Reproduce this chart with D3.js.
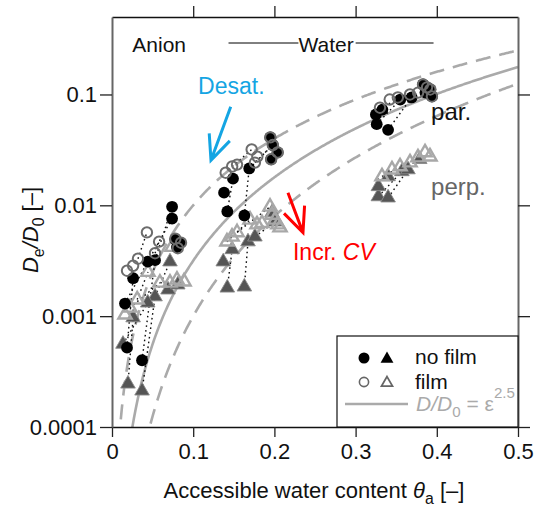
<!DOCTYPE html>
<html>
<head>
<meta charset="utf-8">
<script src="https://cdn.jsdelivr.net/npm/d3@7"></script>
<style>
  html, body { margin: 0; padding: 0; background: #fff; }
</style>
</head>
<body>
<svg id="chart" width="538" height="515"></svg>
<script>
// ---- axis ticks ----
const xTicks = [0, 0.1, 0.2, 0.3, 0.4, 0.5];
const xTickLabels = ["0", "0.1", "0.2", "0.3", "0.4", "0.5"];
const yTicks = [1e-4, 1e-3, 1e-2, 1e-1];
const yTickLabels = ["0.0001", "0.001", "0.01", "0.1"];

// ---- measurements: [theta_a, De/D0] ----
// parallel to the bedding, no film correction
const parNoFilm = [
  [0.074, 0.0097], [0.074, 0.0076], [0.044, 0.0031], [0.053, 0.0032], [0.026, 0.0022],
  [0.016, 0.0013], [0.0185, 0.00052], [0.037, 0.0004], [0.078, 0.0049], [0.084, 0.0046],
  [0.080, 0.0042], [0.149, 0.0174], [0.138, 0.013], [0.169, 0.0215], [0.142, 0.0088],
  [0.163, 0.0081], [0.195, 0.041], [0.198, 0.035], [0.204, 0.030], [0.196, 0.026],
  [0.326, 0.054], [0.340, 0.048], [0.325, 0.066], [0.333, 0.073], [0.355, 0.090],
  [0.369, 0.094], [0.383, 0.123], [0.388, 0.116], [0.392, 0.111], [0.386, 0.104],
  [0.394, 0.096]
];
// parallel, with film correction
const parFilm = [
  [0.0185, 0.00257], [0.026, 0.00285], [0.032, 0.0033], [0.043, 0.0057], [0.053, 0.0037],
  [0.058, 0.0047], [0.078, 0.0050], [0.085, 0.0046], [0.081, 0.0041], [0.140, 0.0197],
  [0.148, 0.0224], [0.154, 0.0233], [0.172, 0.0319], [0.179, 0.0275], [0.176, 0.0243],
  [0.195, 0.041], [0.198, 0.035], [0.204, 0.030], [0.196, 0.026], [0.330, 0.076],
  [0.342, 0.090], [0.352, 0.094], [0.367, 0.100], [0.377, 0.104], [0.383, 0.123],
  [0.388, 0.116], [0.392, 0.111], [0.394, 0.096]
];
// perpendicular to the bedding, no film correction
const perpNoFilm = [
  [0.0714, 0.0031], [0.053, 0.0015], [0.044, 0.00132], [0.026, 0.00097], [0.0135, 0.00056],
  [0.0197, 0.000245], [0.037, 0.000212], [0.069, 0.00173], [0.081, 0.00192], [0.148, 0.0040],
  [0.137, 0.0031], [0.1675, 0.0047], [0.176, 0.0052], [0.142, 0.0018], [0.163, 0.00184],
  [0.197, 0.0086], [0.201, 0.0071], [0.328, 0.0120], [0.340, 0.0117], [0.328, 0.0148],
  [0.340, 0.0182], [0.357, 0.0202], [0.3645, 0.021], [0.379, 0.026]
];
// perpendicular, with film correction
const perpFilm = [
  [0.0739, 0.0042], [0.0443, 0.0025], [0.059, 0.0020], [0.031, 0.00141], [0.022, 0.00119],
  [0.016, 0.00103], [0.0714, 0.0020], [0.080, 0.00213], [0.0887, 0.00205], [0.1416, 0.0047],
  [0.1478, 0.0052], [0.154, 0.0057], [0.170, 0.0074], [0.1786, 0.0067], [0.1847, 0.0069],
  [0.1946, 0.0097], [0.197, 0.0082], [0.2007, 0.0074], [0.2044, 0.0067], [0.2069, 0.0063],
  [0.3325, 0.0182], [0.3448, 0.021], [0.3547, 0.0224], [0.367, 0.0243], [0.3768, 0.027],
  [0.3855, 0.030], [0.3916, 0.0275]
];

// same-sample connections (index pairs within each series)
const parNoFilmTracks = [[6, 4], [7, 3], [5, 2], [2, 1], [3, 0], [14, 11], [15, 13], [13, 17], [20, 24], [21, 25]];
const parFilmTracks = [[2, 3], [4, 5], [10, 12], [14, 16], [19, 22]];
const perpNoFilmTracks = [[5, 3], [6, 1], [4, 2], [1, 0], [13, 9], [14, 11], [12, 16], [17, 21], [18, 22]];
const perpFilmTracks = [[3, 1], [4, 2], [9, 12], [11, 15], [20, 23]];

// model curves D/D0 = eps^n
const modelExponents = [2, 2.5, 3];
const modelDashed = [true, false, true];

const FONT = '"Liberation Sans", Arial, Helvetica, sans-serif';
const plot = { left: 112, right: 518, top: 17, bottom: 427 };

const x = d3.scaleLinear().domain([0, 0.5]).range([plot.left, plot.right]);
const y = d3.scaleLog().domain([1e-4, 0.5]).range([plot.bottom, plot.top]);

const svg = d3.select("#chart").attr("font-family", FONT);

// text with italic / sub / superscript runs
function rich(sel, parts, baseSize) {
  parts.forEach(p => {
    const t = sel.append("tspan").text(p.t);
    if (p.i) t.attr("font-style", "italic");
    if (p.sub) t.attr("font-size", baseSize * 0.72).attr("dy", p.dy != null ? p.dy : baseSize * 0.28);
    else if (p.sup) t.attr("font-size", baseSize * 0.72).attr("dy", p.dy != null ? p.dy : -baseSize * 0.45);
    else if (p.dy != null) t.attr("dy", p.dy);
  });
  return sel;
}

// ---- clip region ----
svg.append("defs").append("clipPath").attr("id", "plotclip")
  .append("rect").attr("x", plot.left).attr("y", plot.top)
  .attr("width", plot.right - plot.left).attr("height", plot.bottom - plot.top);

// ---- model curves ----
const thetaGrid = d3.range(0.004, 0.5005, 0.001);
const curveG = svg.append("g").attr("clip-path", "url(#plotclip)");
modelExponents.forEach((n, k) => {
  const line = d3.line().x(t => x(t)).y(t => y(Math.pow(t, n)));
  curveG.append("path").attr("d", line(thetaGrid))
    .attr("fill", "none").attr("stroke", "#aaaaaa").attr("stroke-width", 2.6)
    .attr("stroke-dasharray", modelDashed[k] ? "15,9" : null);
});

// ---- dotted connections ----
const trackG = svg.append("g").attr("clip-path", "url(#plotclip)");
function tracks(series, pairs) {
  pairs.forEach(([a, b]) => {
    trackG.append("line")
      .attr("x1", x(series[a][0])).attr("y1", y(series[a][1]))
      .attr("x2", x(series[b][0])).attr("y2", y(series[b][1]))
      .attr("stroke", "#111").attr("stroke-width", 1.4).attr("stroke-dasharray", "1.6,3.2");
  });
}
tracks(parNoFilm, parNoFilmTracks);
tracks(parFilm, parFilmTracks);
tracks(perpNoFilm, perpNoFilmTracks);
tracks(perpFilm, perpFilmTracks);

// ---- markers ----
const triPath = d3.symbol().type(d3.symbolTriangle);
const markG = svg.append("g");
markG.selectAll("path.pnf").data(perpNoFilm).join("path").attr("class", "pnf")
  .attr("d", triPath.size(92)())
  .attr("transform", d => `translate(${x(d[0])},${y(d[1])})`)
  .attr("fill", "#555").attr("stroke", "#8a8a8a").attr("stroke-width", 0.9);
markG.selectAll("path.pf").data(perpFilm).join("path").attr("class", "pf")
  .attr("d", triPath.size(76)())
  .attr("transform", d => `translate(${x(d[0])},${y(d[1])})`)
  .attr("fill", "none").attr("stroke", "#a8a8a8").attr("stroke-width", 2.4);
markG.selectAll("circle.cnf").data(parNoFilm).join("circle").attr("class", "cnf")
  .attr("cx", d => x(d[0])).attr("cy", d => y(d[1])).attr("r", 5.9)
  .attr("fill", "#000");
markG.selectAll("circle.cf").data(parFilm).join("circle").attr("class", "cf")
  .attr("cx", d => x(d[0])).attr("cy", d => y(d[1])).attr("r", 5.2)
  .attr("fill", "none").attr("stroke", "#6c6c6c").attr("stroke-width", 2);

// ---- axes ----
function styleAxis(g, domainColor, domainWidth) {
  g.attr("font-family", FONT).attr("font-size", 22);
  g.select(".domain").attr("stroke", domainColor).attr("stroke-width", domainWidth);
  g.selectAll(".tick line").attr("stroke", "#222").attr("stroke-width", 1.3);
  g.selectAll(".tick text").attr("fill", "#111");
}
const gBottom = svg.append("g").attr("transform", `translate(0,${plot.bottom})`)
  .call(d3.axisBottom(x).tickValues(xTicks).tickFormat((d, i) => xTickLabels[i])
    .tickSize(10).tickSizeOuter(0).tickPadding(6));
styleAxis(gBottom, "#111", 1.5);

const gTop = svg.append("g").attr("transform", `translate(0,${plot.top})`)
  .call(d3.axisTop(x).tickValues(xTicks.slice(1, -1)).tickFormat("")
    .tickSize(11).tickSizeOuter(0));
styleAxis(gTop, "#111", 1.5);

const gLeft = svg.append("g").attr("transform", `translate(${plot.left},0)`)
  .call(d3.axisLeft(y).tickValues(yTicks).tickFormat((d, i) => yTickLabels[i])
    .tickSize(12).tickSizeOuter(0).tickPadding(3));
styleAxis(gLeft, "#666", 2);

const gRight = svg.append("g").attr("transform", `translate(${plot.right},0)`)
  .call(d3.axisRight(y).tickValues(yTicks).tickFormat("")
    .tickSize(12).tickSizeOuter(0));
styleAxis(gRight, "#666", 2);

// ---- axis titles ----
rich(svg.append("text")
  .attr("x", (plot.left + plot.right) / 2 - 1).attr("y", 498)
  .attr("text-anchor", "middle").attr("font-size", 22).attr("fill", "#111"),
  [{ t: "Accessible water content " }, { t: "θ", i: true }, { t: "a", sub: true }, { t: " [–]", dy: -22 * 0.28 }], 22);

rich(svg.append("text")
  .attr("transform", `translate(38,${(plot.top + plot.bottom) / 2 + 8}) rotate(-90)`)
  .attr("text-anchor", "middle").attr("font-size", 22).attr("fill", "#111"),
  [{ t: "D", i: true }, { t: "e", sub: true }, { t: "/D", i: true, dy: -22 * 0.28 }, { t: "0", sub: true },
   { t: " [–]", dy: -22 * 0.28 }], 22);

// ---- header: tracer ranges ----
const headerY = plot.top + 35;
svg.append("text").attr("x", x(0.025)).attr("y", headerY)
  .attr("font-size", 21).attr("fill", "#111").text("Anion");
const waterSpan = [0.1435, 0.396];
const waterLabel = svg.append("text")
  .attr("x", (x(waterSpan[0]) + x(waterSpan[1])) / 2 - 5).attr("y", headerY)
  .attr("text-anchor", "middle").attr("font-size", 21).attr("fill", "#111").text("Water");
const wb = waterLabel.node().getBBox();
svg.append("line").attr("x1", x(waterSpan[0])).attr("x2", wb.x)
  .attr("y1", headerY - 9).attr("y2", headerY - 9).attr("stroke", "#000").attr("stroke-width", 1);
svg.append("line").attr("x1", wb.x + wb.width + 2).attr("x2", x(waterSpan[1]))
  .attr("y1", headerY - 9).attr("y2", headerY - 9).attr("stroke", "#000").attr("stroke-width", 1);

// ---- annotations ----
function arrow(from, to, color) {
  const x0 = x(from[0]), y0 = y(from[1]), x1 = x(to[0]), y1 = y(to[1]);
  const ang = Math.atan2(y0 - y1, x0 - x1);
  const L = 27, a = 24 * Math.PI / 180;
  const d = `M${x0},${y0}L${x1},${y1}` +
    `M${x1 + L * Math.cos(ang - a)},${y1 + L * Math.sin(ang - a)}L${x1},${y1}` +
    `L${x1 + L * Math.cos(ang + a)},${y1 + L * Math.sin(ang + a)}`;
  svg.append("path").attr("d", d).attr("fill", "none")
    .attr("stroke", color).attr("stroke-width", 3).attr("stroke-linejoin", "miter");
}
const desatColor = "#14a5e3";
svg.append("text").attr("x", x(0.106)).attr("y", y(0.102))
  .attr("font-size", 23).attr("fill", desatColor).text("Desat.");
arrow([0.1462, 0.0774], [0.1219, 0.0255], desatColor);

arrow([0.2167, 0.0130], [0.2352, 0.00567], "#ff0000");
rich(svg.append("text").attr("x", x(0.2229)).attr("y", y(0.00323))
  .attr("font-size", 23).attr("fill", "#ff0000"),
  [{ t: "Incr. " }, { t: "CV", i: true }], 23);

svg.append("text").attr("x", x(0.3929)).attr("y", y(0.0594))
  .attr("font-size", 24).attr("fill", "#111").text("par.");
svg.append("text").attr("x", x(0.3929)).attr("y", y(0.0125))
  .attr("font-size", 24).attr("fill", "#666").text("perp.");

// ---- legend ----
const lg = svg.append("g").attr("transform", `translate(${plot.right - 181},${plot.bottom - 91})`);
lg.append("rect").attr("width", 181).attr("height", 91)
  .attr("fill", "#fff").attr("stroke", "#111").attr("stroke-width", 1.2);
lg.append("circle").attr("cx", 27).attr("cy", 22).attr("r", 5.5).attr("fill", "#000");
lg.append("path").attr("d", triPath.size(72)()).attr("transform", "translate(50,23)").attr("fill", "#000");
lg.append("text").attr("x", 78).attr("y", 28).attr("font-size", 21).attr("fill", "#111").text("no film");
lg.append("circle").attr("cx", 27).attr("cy", 46).attr("r", 4.6)
  .attr("fill", "none").attr("stroke", "#666").attr("stroke-width", 1.6);
lg.append("path").attr("d", triPath.size(52)()).attr("transform", "translate(50,47)")
  .attr("fill", "none").attr("stroke", "#666").attr("stroke-width", 1.8);
lg.append("text").attr("x", 78).attr("y", 53).attr("font-size", 21).attr("fill", "#111").text("film");
lg.append("line").attr("x1", 8).attr("x2", 71).attr("y1", 68).attr("y2", 68)
  .attr("stroke", "#aaa").attr("stroke-width", 2.6);
rich(lg.append("text").attr("x", 79).attr("y", 75).attr("font-size", 21).attr("fill", "#aaa"),
  [{ t: "D/D", i: true }, { t: "0", sub: true, dy: 6 }, { t: " = ε", dy: -6 }, { t: "2.5", sup: true, dy: -13 }], 21);
</script>
</body>
</html>
